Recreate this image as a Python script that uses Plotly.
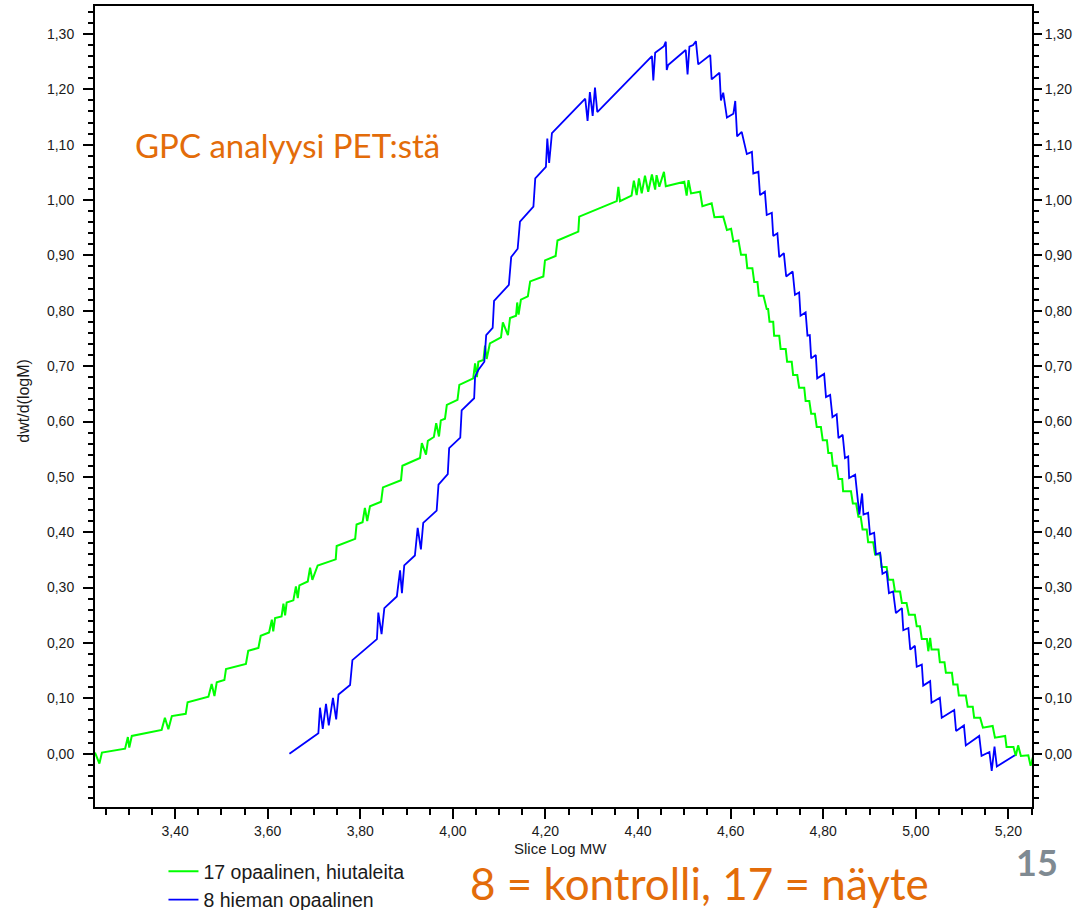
import plotly.graph_objects as go

# ---- data (Slice Log MW vs dwt/d(logM)) ----
green_name = "17 opaalinen, hiutaleita"
green_x = [3.227, 3.2365, 3.242, 3.292, 3.298, 3.301, 3.3065, 3.371, 3.378, 3.3855, 3.393, 3.423, 3.427,
           3.472, 3.479, 3.485, 3.490, 3.5065, 3.510, 3.553, 3.558, 3.580, 3.585, 3.603, 3.609, 3.612,
           3.616, 3.630, 3.634, 3.6376, 3.641, 3.6555, 3.661, 3.665, 3.6685, 3.6866, 3.6916, 3.6965,
           3.708, 3.747, 3.749, 3.789, 3.792, 3.805, 3.810, 3.815, 3.821, 3.845, 3.849, 3.888, 3.891,
           3.929, 3.933, 3.942, 3.946, 3.959, 3.964, 3.970, 3.974, 3.983, 3.987, 4.010, 4.014, 4.044,
           4.048, 4.052, 4.055, 4.066, 4.0695, 4.073, 4.080, 4.104, 4.108, 4.119, 4.1235, 4.1365, 4.139,
           4.142, 4.147, 4.162, 4.167, 4.1955, 4.199, 4.222, 4.226, 4.271, 4.273, 4.354, 4.3575, 4.361,
           4.386, 4.391, 4.397, 4.402, 4.408, 4.415, 4.422, 4.430, 4.437, 4.440, 4.446, 4.456, 4.460,
           4.500, 4.505, 4.509, 4.5145, 4.534, 4.539, 4.559, 4.565, 4.584, 4.592, 4.601, 4.606, 4.617,
           4.6225, 4.633, 4.636, 4.647, 4.651, 4.658, 4.661, 4.671, 4.678, 4.681, 4.684, 4.692, 4.694,
           4.705, 4.708, 4.719, 4.722, 4.732, 4.735, 4.744, 4.748, 4.759, 4.762, 4.770, 4.774, 4.782,
           4.786, 4.795, 4.799, 4.808, 4.811, 4.818, 4.821, 4.829, 4.833, 4.841, 4.843, 4.860, 4.864,
           4.871, 4.876, 4.881, 4.885, 4.894, 4.897, 4.908, 4.912, 4.923, 4.926, 4.937, 4.941, 4.951,
           4.955, 4.966, 4.970, 4.980, 4.985, 4.998, 5.002, 5.009, 5.013, 5.024, 5.027, 5.031, 5.034,
           5.049, 5.052, 5.062, 5.065, 5.078, 5.081, 5.090, 5.093, 5.108, 5.112, 5.123, 5.126, 5.139,
           5.145, 5.166, 5.171, 5.193, 5.196, 5.211, 5.216, 5.221, 5.227, 5.243, 5.248, 5.254]
green_y = [0.002, -0.018, 0.002, 0.009, 0.030, 0.011, 0.032, 0.043, 0.065, 0.044, 0.068, 0.072, 0.093,
           0.103, 0.126, 0.104, 0.129, 0.133, 0.153, 0.162, 0.186, 0.191, 0.213, 0.219, 0.242, 0.221,
           0.245, 0.248, 0.271, 0.250, 0.273, 0.277, 0.302, 0.281, 0.304, 0.311, 0.336, 0.314,
           0.340, 0.351, 0.375, 0.388, 0.414, 0.418, 0.444, 0.420, 0.447, 0.455, 0.481, 0.494, 0.520,
           0.534, 0.561, 0.540, 0.565, 0.572, 0.597, 0.573, 0.602, 0.605, 0.630, 0.639, 0.666, 0.678,
           0.705, 0.680, 0.708, 0.711, 0.737, 0.713, 0.741, 0.752, 0.779, 0.756, 0.787, 0.791, 0.815,
           0.793, 0.820, 0.826, 0.853, 0.862, 0.891, 0.899, 0.927, 0.943, 0.970, 0.998, 1.024, 0.998,
           1.008, 1.035, 1.009, 1.039, 1.012, 1.044, 1.015, 1.046, 1.019, 1.045, 1.024, 1.051, 1.025,
           1.033, 1.008, 1.036, 1.012, 1.015, 0.989, 0.994, 0.969, 0.970, 0.946, 0.948, 0.925, 0.927,
           0.901, 0.901, 0.877, 0.877, 0.852, 0.852, 0.827, 0.827, 0.803, 0.803, 0.780, 0.780, 0.755,
           0.755, 0.731, 0.731, 0.708, 0.708, 0.684, 0.684, 0.661, 0.661, 0.637, 0.637, 0.614, 0.614,
           0.590, 0.590, 0.566, 0.566, 0.543, 0.543, 0.520, 0.520, 0.496, 0.496, 0.474, 0.474, 0.452,
           0.452, 0.428, 0.428, 0.405, 0.405, 0.382, 0.382, 0.360, 0.360, 0.337, 0.337, 0.314, 0.314,
           0.293, 0.293, 0.272, 0.272, 0.251, 0.251, 0.230, 0.230, 0.207, 0.207, 0.185, 0.209, 0.188,
           0.188, 0.165, 0.165, 0.146, 0.146, 0.125, 0.125, 0.105, 0.105, 0.085, 0.085, 0.065, 0.065,
           0.047, 0.050, 0.029, 0.032, 0.012, 0.012, -0.004, 0.015, -0.004, -0.003, -0.022, -0.003]

blue_name = "8 hieman opaalinen"
blue_x = [3.647, 3.7095, 3.713, 3.719, 3.726, 3.732, 3.741, 3.748, 3.753, 3.778, 3.783, 3.836, 3.839,
          3.846, 3.852, 3.879, 3.886, 3.890, 3.895, 3.918, 3.924, 3.931, 3.936, 3.965, 3.969, 3.989,
          3.992, 4.016, 4.019, 4.046, 4.048, 4.055, 4.068, 4.072, 4.086, 4.089, 4.121, 4.126, 4.140,
          4.145, 4.174, 4.178, 4.201, 4.204, 4.208, 4.214, 4.286, 4.291, 4.296, 4.302, 4.307, 4.312,
          4.430, 4.433, 4.437, 4.456, 4.460, 4.462, 4.465, 4.503, 4.507, 4.511, 4.519, 4.525, 4.530,
          4.556, 4.559, 4.576, 4.579, 4.584, 4.592, 4.606, 4.610, 4.614, 4.624, 4.635, 4.646, 4.649,
          4.660, 4.6635, 4.674, 4.678, 4.689, 4.692, 4.701, 4.705, 4.715, 4.720, 4.734, 4.739, 4.748,
          4.751, 4.762, 4.766, 4.771, 4.774, 4.784, 4.787, 4.802, 4.806, 4.815, 4.820, 4.829, 4.833,
          4.842, 4.847, 4.854, 4.856, 4.869, 4.874, 4.878, 4.884, 4.887, 4.897, 4.901, 4.910, 4.914,
          4.923, 4.928, 4.937, 4.942, 4.951, 4.957, 4.970, 4.973, 4.984, 4.988, 4.998, 5.002, 5.013,
          5.016, 5.031, 5.034, 5.052, 5.056, 5.083, 5.087, 5.104, 5.108, 5.137, 5.142, 5.159, 5.164,
          5.170, 5.175, 5.214]
blue_y = [0.000, 0.037, 0.083, 0.045, 0.090, 0.051, 0.101, 0.062, 0.107, 0.124, 0.169, 0.207, 0.255,
          0.216, 0.263, 0.284, 0.331, 0.290, 0.340, 0.358, 0.408, 0.369, 0.417, 0.439, 0.486, 0.505,
          0.552, 0.571, 0.620, 0.642, 0.681, 0.693, 0.708, 0.756, 0.769, 0.818, 0.847, 0.897, 0.912,
          0.961, 0.988, 1.039, 1.060, 1.111, 1.067, 1.121, 1.183, 1.143, 1.195, 1.152, 1.203, 1.159,
          1.260, 1.216, 1.266, 1.278, 1.286, 1.235, 1.244, 1.271, 1.227, 1.277, 1.280, 1.287, 1.245,
          1.262, 1.218, 1.230, 1.180, 1.194, 1.149, 1.156, 1.179, 1.115, 1.123, 1.083, 1.087, 1.048,
          1.051, 1.009, 1.015, 0.973, 0.977, 0.935, 0.940, 0.897, 0.904, 0.862, 0.871, 0.829, 0.833,
          0.791, 0.797, 0.755, 0.756, 0.714, 0.720, 0.678, 0.686, 0.644, 0.648, 0.608, 0.613, 0.570,
          0.576, 0.534, 0.537, 0.498, 0.504, 0.465, 0.432, 0.470, 0.432, 0.435, 0.396, 0.399, 0.360,
          0.363, 0.325, 0.329, 0.290, 0.293, 0.254, 0.263, 0.223, 0.227, 0.188, 0.195, 0.157, 0.161,
          0.123, 0.131, 0.092, 0.101, 0.065, 0.079, 0.041, 0.051, 0.015, 0.032, -0.004, 0.003, -0.031,
          0.013, -0.023, -0.003]

x_tick_vals = [3.40, 3.60, 3.80, 4.00, 4.20, 4.40, 4.60, 4.80, 5.00, 5.20]
x_range = [3.227, 5.251]
y_range = [-0.0963, 1.3505]

title_text = "GPC analyysi PET:stä"
note_text = "8 = kontrolli, 17 = näyte"
page_no = "15"
x_title = "Slice Log MW"
y_title = "dwt/d(logM)"

orange = "#E36C09"
tick_font = dict(family="Liberation Sans, Arial, sans-serif", size=14, color="#1a1a1a")

fig = go.Figure()
fig.add_trace(go.Scatter(x=green_x, y=green_y, mode="lines", name=green_name,
                         line=dict(color="#00FF00", width=2)))
fig.add_trace(go.Scatter(x=blue_x, y=blue_y, mode="lines", name=blue_name,
                         line=dict(color="#0000FF", width=1.8)))
# invisible trace to activate the right-hand axis
fig.add_trace(go.Scatter(x=[x_range[0]], y=[0], yaxis="y2", mode="lines",
                         showlegend=False, hoverinfo="skip", line=dict(width=0)))

fig.update_layout(
    width=1084, height=910,
    margin=dict(l=95, r=52, t=6, b=103, autoexpand=False),
    paper_bgcolor="white", plot_bgcolor="white",
    separators=",.",
    showlegend=True,
    legend=dict(xref="container", yref="container", x=0.1508, y=0.0637,
                xanchor="left", yanchor="top",
                font=dict(family="Liberation Sans, Arial, sans-serif", size=19.5, color="#1a1a1a"),
                bgcolor="rgba(0,0,0,0)", tracegroupgap=0),
    xaxis=dict(range=x_range, tickvals=x_tick_vals, tickformat=".2f",
               ticks="outside", ticklen=10, tickwidth=2, tickcolor="black",
               minor=dict(dtick=0.05, tick0=3.4, ticks="outside", ticklen=6, tickwidth=2, tickcolor="black"),
               showline=True, linewidth=2, linecolor="black", mirror=True,
               showgrid=False, zeroline=False, tickfont=tick_font, ticklabelstandoff=0,
               automargin=False),
    yaxis=dict(range=y_range, tick0=0, dtick=0.1, tickformat=".2f",
               ticks="outside", ticklen=10, tickwidth=2, tickcolor="black",
               minor=dict(dtick=0.02, tick0=0, ticks="outside", ticklen=5, tickwidth=2, tickcolor="black"),
               showline=True, linewidth=2, linecolor="black",
               showgrid=False, zeroline=False, tickfont=tick_font, ticklabelstandoff=6,
               automargin=False),
    yaxis2=dict(range=y_range, overlaying="y", side="right", matches="y",
                tick0=0, dtick=0.1, tickformat=".2f",
                ticks="outside", ticklen=8, tickwidth=2, tickcolor="black",
                minor=dict(dtick=0.02, tick0=0, ticks="outside", ticklen=5, tickwidth=2, tickcolor="black"),
                showline=True, linewidth=2, linecolor="black",
                showgrid=False, zeroline=False, tickfont=tick_font, ticklabelstandoff=0,
                automargin=False),
)

annotations = [
    dict(text=title_text, x=0.0406, y=0.8265, xref="paper", yref="paper",
         xanchor="left", yanchor="middle", showarrow=False,
         font=dict(family="Lato, sans-serif", size=33, color=orange)),
    dict(text=note_text, x=0.398, y=-0.0952, xref="paper", yref="paper",
         xanchor="left", yanchor="middle", showarrow=False,
         font=dict(family="Lato, sans-serif", size=44, color=orange)),
    dict(text="<b>" + page_no + "</b>", x=0.9808, y=-0.0687, xref="paper", yref="paper",
         xanchor="left", yanchor="middle", showarrow=False,
         font=dict(family="Lato, sans-serif", size=36, color="#7F8A92")),
    dict(text=x_title, x=0.4963, y=-0.0512, xref="paper", yref="paper",
         xanchor="center", yanchor="middle", showarrow=False,
         font=dict(family="Liberation Sans, Arial, sans-serif", size=15, color="#1a1a1a")),
    dict(text=y_title, x=-0.076, y=0.507, xref="paper", yref="paper", textangle=-90,
         xanchor="center", yanchor="middle", showarrow=False,
         font=dict(family="Liberation Sans, Arial, sans-serif", size=16, color="#1a1a1a")),
]
fig.update_layout(annotations=annotations)

fig.write_html("out.html", config={"displayModeBar": False},
               post_script="document.body.style.margin='0px';")
